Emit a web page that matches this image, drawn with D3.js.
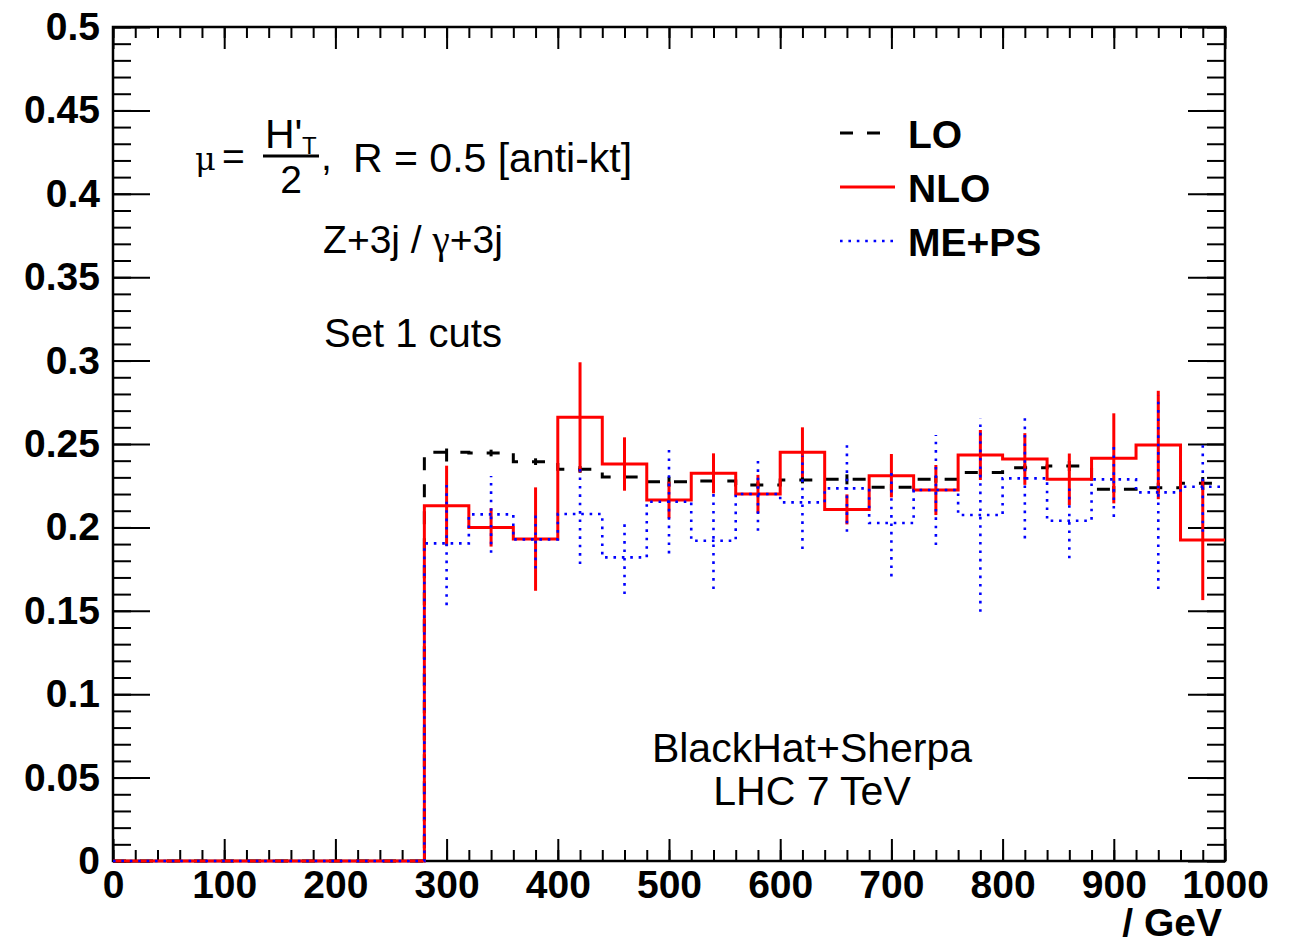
<!DOCTYPE html>
<html>
<head>
<meta charset="utf-8">
<script src="https://cdn.jsdelivr.net/npm/d3@7"></script>
<style>
  body { margin: 0; background: #fff; }
  svg text { font-family: "Liberation Sans", Arial, Helvetica, sans-serif; }
</style>
</head>
<body>
<div id="chart"></div>
<script>
var w = 1304;
var h = 946;

// bin edges: one empty bin below 280 GeV, then 40 GeV bins up to 1000
var edges = [0, 280, 320, 360, 400, 440, 480, 520, 560, 600, 640, 680, 720, 760, 800, 840, 880, 920, 960, 1000];

var loVal  = [0, 0.245, 0.2446, 0.2394, 0.2348, 0.2302, 0.2274, 0.2278, 0.2254, 0.2284, 0.2288, 0.224, 0.2288, 0.2329, 0.2357, 0.2368, 0.2228, 0.2238, 0.2264];
var loErr  = [0, 0.0055, 0.002, 0.002, 0.002, 0.002, 0.003, 0.002, 0.002, 0.002, 0.003, 0.002, 0.002, 0.002, 0.002, 0.003, 0.002, 0.003, 0.004];
var nloVal = [0, 0.213, 0.200, 0.193, 0.266, 0.238, 0.2164, 0.2324, 0.220, 0.245, 0.2108, 0.231, 0.2224, 0.2434, 0.241, 0.2288, 0.2414, 0.2494, 0.1924];
var nloErr = [0, 0.024, 0.0115, 0.031, 0.033, 0.016, 0.011, 0.012, 0.0115, 0.015, 0.009, 0.013, 0.015, 0.015, 0.0155, 0.0155, 0.027, 0.0325, 0.036];
var mepsVal = [0, 0.1904, 0.2078, 0.1928, 0.208, 0.182, 0.2154, 0.192, 0.220, 0.215, 0.2234, 0.2026, 0.2224, 0.2074, 0.2294, 0.204, 0.2288, 0.221, 0.2244];
var mepsErr = [0, 0.037, 0.023, 0.0175, 0.030, 0.022, 0.031, 0.029, 0.022, 0.028, 0.026, 0.032, 0.033, 0.058, 0.036, 0.0225, 0.0225, 0.058, 0.027];

var xMajor = d3.range(0, 1001, 100);
var xMinor = d3.range(0, 1001, 20);
var yMajor = d3.range(0, 0.5001, 0.05);
var yMinor = d3.range(0, 0.5001, 0.01);

var series = [
  {name: 'LO',    vals: loVal,   errs: loErr,   color: '#000', width: 3,   dash: '13,14', legLen: 42},
  {name: 'NLO',   vals: nloVal,  errs: nloErr,  color: '#f00', width: 3,   dash: null,    legLen: 55},
  {name: 'ME+PS', vals: mepsVal, errs: mepsErr, color: '#00f', width: 2.6, dash: '2.6,5.8', legLen: 55}
];

var margin = {top: 27, right: 79, bottom: 85, left: 113};
var innerW = w - margin.left - margin.right,
  innerH = h - margin.top - margin.bottom;

var x = d3.scaleLinear().domain([0, 1000]).range([0, innerW]);
var y = d3.scaleLinear().domain([0, 0.5]).range([innerH, 0]);

var svg = d3.select('#chart')
  .append('svg')
    .attr('width', w)
    .attr('height', h)
  .append('g')
    .attr('transform', 'translate(' + [margin.left, margin.top] + ')');

var fmtY = function(d) { return d3.format('~g')(+d.toFixed(2)); };

// ticks: ROOT style, inside the frame on all four sides
function styleAxis(g) {
  g.select('.domain').remove();
  g.selectAll('line').attr('stroke', '#000').attr('stroke-width', 2);
  g.selectAll('text')
    .style('font-family', '"Liberation Sans", Arial, Helvetica, sans-serif')
    .style('font-weight', 'bold')
    .style('font-size', '39px')
    .attr('fill', '#000');
}

svg.append('g').attr('transform', 'translate(0,' + innerH + ')')
  .call(d3.axisBottom(x).tickValues(xMinor).tickSize(-11).tickFormat(''))
  .call(styleAxis);
svg.append('g').attr('transform', 'translate(0,' + innerH + ')')
  .call(d3.axisBottom(x).tickValues(xMajor).tickSize(-22).tickPadding(9).tickFormat(d3.format('d')))
  .call(styleAxis);
svg.append('g')
  .call(d3.axisTop(x).tickValues(xMinor).tickSize(-11).tickFormat(''))
  .call(styleAxis);
svg.append('g')
  .call(d3.axisTop(x).tickValues(xMajor).tickSize(-22).tickFormat(''))
  .call(styleAxis);

svg.append('g')
  .call(d3.axisLeft(y).tickValues(yMinor).tickSize(-18).tickFormat(''))
  .call(styleAxis);
svg.append('g')
  .call(d3.axisLeft(y).tickValues(yMajor).tickSize(-37).tickPadding(13).tickFormat(fmtY))
  .call(styleAxis);
svg.append('g').attr('transform', 'translate(' + innerW + ',0)')
  .call(d3.axisRight(y).tickValues(yMinor).tickSize(-18).tickFormat(''))
  .call(styleAxis);
svg.append('g').attr('transform', 'translate(' + innerW + ',0)')
  .call(d3.axisRight(y).tickValues(yMajor).tickSize(-37).tickFormat(''))
  .call(styleAxis);

svg.append('rect')
  .attr('width', innerW)
  .attr('height', innerH)
  .attr('fill', 'none')
  .attr('stroke', '#000')
  .attr('stroke-width', 2.5);

// histograms
var line = d3.line();
function stepPoints(vals) {
  var pts = [];
  vals.forEach(function(v, i) {
    pts.push([x(edges[i]), y(v)]);
    pts.push([x(edges[i + 1]), y(v)]);
  });
  return pts;
}

series.forEach(function(s) {
  var g = svg.append('g').attr('class', 'series');
  g.append('path')
    .attr('d', line(stepPoints(s.vals)))
    .attr('fill', 'none')
    .attr('stroke', s.color)
    .attr('stroke-width', s.width)
    .attr('stroke-dasharray', s.dash);
  var bins = s.vals.map(function(v, i) {
    return {c: (edges[i] + edges[i + 1]) / 2, v: v, e: s.errs[i]};
  }).filter(function(d) { return d.e > 0; });
  g.selectAll('.err')
    .data(bins)
    .enter().append('line')
      .attr('class', 'err')
      .attr('x1', function(d) { return x(d.c); })
      .attr('x2', function(d) { return x(d.c); })
      .attr('y1', function(d) { return y(d.v - d.e); })
      .attr('y2', function(d) { return y(d.v + d.e); })
      .attr('stroke', s.color)
      .attr('stroke-width', s.width)
      .attr('stroke-dasharray', s.dash);
});

// legend
var legend = svg.append('g').attr('transform', 'translate(' + [727, 106] + ')');
series.forEach(function(s, i) {
  var gy = i * 54;
  legend.append('line')
    .attr('x1', 0).attr('x2', s.legLen)
    .attr('y1', gy).attr('y2', gy)
    .attr('stroke', s.color)
    .attr('stroke-width', s.width)
    .attr('stroke-dasharray', s.dash);
  legend.append('text')
    .attr('x', 68).attr('y', gy + 15)
    .style('font-weight', 'bold')
    .style('font-size', '39px')
    .text(s.name);
});

// annotations
var ann = svg.append('g').style('font-size', '39px').attr('fill', '#000');
ann.append('text').attr('x', 82).attr('y', 143).style('font-family', '"DejaVu Serif", serif').style('font-size', '32px').text('\u03bc');
ann.append('text').attr('x', 109).attr('y', 143).text('=');
ann.append('text').attr('x', 152).attr('y', 121).style('font-size', '41px').text('H\'');
ann.append('text').attr('x', 189).attr('y', 127).style('font-size', '24px').text('T');
ann.append('line').attr('x1', 150).attr('x2', 206).attr('y1', 129).attr('y2', 129).attr('stroke', '#000').attr('stroke-width', 3);
ann.append('text').attr('x', 178).attr('y', 166).attr('text-anchor', 'middle').text('2');
ann.append('text').attr('x', 208).attr('y', 143).text(',');
ann.append('text').attr('x', 240).attr('y', 145).style('font-size', '41px').text('R = 0.5 [anti-kt]');
var zt = ann.append('text').attr('x', 300).attr('y', 226).attr('text-anchor', 'middle');
zt.append('tspan').text('Z+3j / ');
zt.append('tspan').style('font-family', '"Liberation Serif", "DejaVu Serif", serif').text('\u03b3');
zt.append('tspan').text('+3j');
ann.append('text').attr('x', 300).attr('y', 320).attr('text-anchor', 'middle').style('font-size', '40px').text('Set 1 cuts');
ann.append('text').attr('x', 699).attr('y', 735).attr('text-anchor', 'middle').style('font-size', '41px').text('BlackHat+Sherpa');
ann.append('text').attr('x', 699).attr('y', 778).attr('text-anchor', 'middle').style('font-size', '41px').text('LHC 7 TeV');

svg.append('text')
  .attr('x', innerW - 3)
  .attr('y', innerH + 48 + 27)
  .attr('text-anchor', 'end')
  .style('font-weight', 'bold')
  .style('font-size', '39px')
  .text('/ GeV');
</script>
</body>
</html>
